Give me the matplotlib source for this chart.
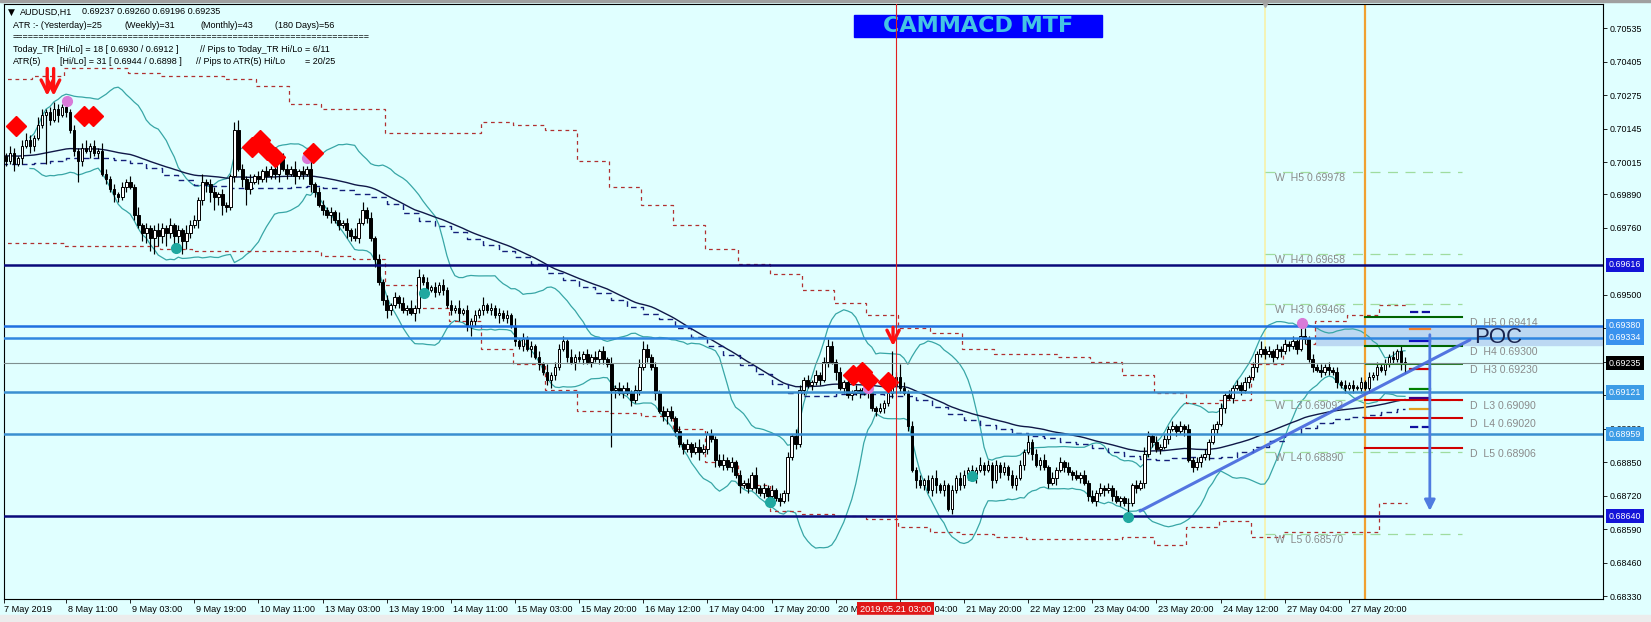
import matplotlib
matplotlib.use("Agg")
import matplotlib.pyplot as plt
import matplotlib.transforms as mtransforms
from matplotlib import font_manager
from matplotlib.patches import Rectangle
import numpy as np
import pandas as pd

W, H = 1651, 622

# AUDUSD H1 closes in pips (0.0001), bar 0 = 7 May 2019, last bar = 28 May 2019
close_pips = [
    7004, 7002, 7005, 7001, 7003, 7008, 7010, 7008, 7011, 7016,
    7020, 7021, 7018, 7022, 7020, 7023, 7021, 7014, 7006, 7002,
    7007, 7006, 7008, 7005, 7006, 6997, 6995, 6991, 6989, 6988,
    6992, 6994, 6992, 6981, 6977, 6974, 6976, 6972, 6975, 6973,
    6976, 6974, 6977, 6973, 6975, 6971, 6974, 6977, 6979, 6987,
    6994, 6993, 6990, 6988, 6989, 6985, 6984, 6996, 7014, 6999,
    6995, 6991, 6994, 6996, 6995, 6998, 6996, 6999, 6997, 7004,
    6999, 6997, 6999, 6996, 6998, 6997, 6999, 6993, 6990, 6985,
    6983, 6981, 6982, 6979, 6977, 6978, 6975, 6973, 6972, 6978,
    6983, 6980, 6972, 6964, 6955, 6948, 6944, 6946, 6949, 6947,
    6944, 6945, 6943, 6945, 6957, 6955, 6952, 6953, 6951, 6954,
    6952, 6946, 6944, 6945, 6943, 6944, 6938, 6940, 6942, 6944,
    6946, 6944, 6945, 6942, 6943, 6941, 6942, 6938, 6932, 6930,
    6933, 6929, 6930, 6926, 6923, 6920, 6917, 6919, 6922, 6929,
    6932, 6926, 6924, 6926, 6925, 6927, 6924, 6926, 6925, 6928,
    6925, 6923, 6913, 6914, 6912, 6914, 6912, 6909, 6913, 6922,
    6929, 6926, 6922, 6912, 6905, 6903, 6905, 6902, 6897, 6892,
    6890, 6892, 6889, 6891, 6889, 6890, 6896, 6894, 6886, 6884,
    6886, 6883, 6885, 6880, 6876, 6877, 6875, 6880, 6875, 6873,
    6875, 6872, 6874, 6871, 6870, 6873, 6887, 6895, 6892, 6913,
    6917, 6915, 6916, 6919, 6917, 6924, 6930, 6924, 6920, 6914,
    6916, 6911, 6912, 6913, 6912, 6914, 6912, 6906, 6905, 6906,
    6908, 6912, 6915, 6918, 6914, 6912, 6899, 6882, 6878, 6876,
    6878, 6874, 6879, 6876, 6874, 6876, 6867, 6874, 6879, 6876,
    6880, 6882, 6879, 6882, 6884, 6882, 6884, 6878, 6884, 6881,
    6883, 6880, 6876, 6879, 6884, 6889, 6893, 6888, 6884, 6886,
    6883, 6877, 6879, 6882, 6885, 6883, 6881, 6880, 6879, 6880,
    6877, 6872, 6870, 6873, 6875, 6874, 6875, 6872, 6870, 6871,
    6869, 6869, 6876, 6875, 6877, 6888, 6895, 6893, 6890, 6891,
    6894, 6898, 6899, 6897, 6899, 6898, 6886, 6883, 6885, 6887,
    6888, 6893, 6898, 6900, 6906, 6911, 6910, 6914, 6915, 6913,
    6916, 6918, 6922, 6927, 6929, 6927, 6928, 6926, 6929, 6928,
    6931, 6930, 6932, 6929, 6934, 6933, 6925, 6922, 6921, 6920,
    6922, 6921, 6920, 6916, 6915, 6914, 6915, 6914, 6914, 6916,
    6914, 6918, 6919, 6922, 6921, 6923, 6926, 6925, 6928, 6924,
    6923.5,
]
first_open = 7003

# wick lengths in pips per bar (base-36 digits, so j=19, m=22, d=13)
wick_up_txt = """
2132123213 2123212121 2312132121 2121312123 2131213221 3122121134 2131212132
1213121312 2121312132 3121212121 2131312121 2121312121 3121212131 2121213122
2131212121 2131212123 3212121212 1212321212 2121212131 2121212132 1212123212
1212121212 12d2521212 1213121212 2121312121 2121213121 2121212121 2121212121
1212132121 2121212121 2121212121 2121312121 2121331212 1212121212 1212121212 2
"""
wick_dn_txt = """
2213121321 1j21312128 2131212132 1212134564 3524353213 2345342121 3621212123
1213121321 2131213212 1213123212 1213212121 2121312421 2121312121 2131212321
1213121212 21m3121212 1213123121 2121312131 2121312121 2121213121 2121212131
2121212121 2121212131 2123121212 1212121312 1212121212 1213121212 1212121212
1412121212 1212131212 1212121212 1212121212 1212121212 1212121212 1212121213 4
"""

# MTF envelope (red dotted), one value per 8 bars, pips
env_upper = [7034, 7035, 7038, 7038, 7036, 7035, 7035, 7034, 7031, 7024,
             7022, 7022, 7013, 7013, 7013, 7017, 7016, 7014, 7002, 6992,
             6985, 6977, 6968, 6962, 6958, 6952, 6947, 6942, 6937, 6935,
             6929, 6927, 6927, 6926, 6924, 6919, 6912, 6908, 6909, 6923,
             6931, 6940, 6942, 6946]
env_lower = [6970, 6970, 6969, 6969, 6969, 6968, 6967, 6967, 6967, 6967,
             6965, 6964, 6954, 6945, 6940, 6929, 6923, 6913, 6905, 6904,
             6903, 6898, 6885, 6876, 6866, 6865, 6864, 6863, 6860, 6858,
             6857, 6856, 6855, 6855, 6855, 6856, 6853, 6860, 6862, 6856,
             6858, 6858, 6858, 6869]

# x-axis labels (bar index, text)
date_ticks = [16, 32, 48, 64, 80, 96, 112, 128, 144, 160, 176, 192, 208,
              224, 240, 256, 272, 288, 304, 320, 336]
date_labels = ["8 May 11:00", "9 May 03:00", "9 May 19:00", "10 May 11:00",
               "13 May 03:00", "13 May 19:00", "14 May 11:00", "15 May 03:00",
               "15 May 20:00", "16 May 12:00", "17 May 04:00", "17 May 20:00",
               "20 May 12:00", "21 May 04:00", "21 May 20:00", "22 May 12:00",
               "23 May 04:00", "23 May 20:00", "24 May 12:00", "27 May 04:00",
               "27 May 20:00"]
price_ticks = [0.70535, 0.70405, 0.70275, 0.70145, 0.70015, 0.69890, 0.69760,
               0.69500, 0.69370, 0.69240, 0.69110, 0.68980, 0.68850, 0.68720,
               0.68590, 0.68460, 0.68330]

# horizontal levels drawn on the chart
sr_levels = [0.69616, 0.69380, 0.69334, 0.69121, 0.68959, 0.68640]
sr_colors = ["#0a0a7a", "#1f6fe0", "#2f86e0", "#3a8fd0", "#3a8fd0", "#0a0a7a"]
sr_tagcol = ["#1414d8", "#3a92ee", "#3a92ee", "#3d9ce6", "#3d9ce6", "#1414d8"]
last_price = 0.69235

# daily pivots
d_names = ["H5", "H4", "H3", "L3", "L4", "L5"]
d_values = [0.69414, 0.69300, 0.69230, 0.69090, 0.69020, 0.68906]
d_colors = ["#006400", "#006400", "#2f7a2f", "#d00000", "#d00000", "#d00000"]
d_widths = [2.0, 2.0, 1.0, 2.0, 2.0, 2.0]
# weekly pivots
w_names = ["H5", "H4", "H3", "L3", "L4", "L5"]
w_values = [0.69978, 0.69658, 0.69466, 0.69092, 0.68890, 0.68570]
# short day-open style marks right of the last bar
mark_prices = [0.69434, 0.69367, 0.69321, 0.69212, 0.69135, 0.69100, 0.69057, 0.68987]
mark_colors = ["#1010a0", "#f08030", "#1010c0", "#d00000", "#008000", "#400080", "#e0a020", "#1010a0"]
mark_styles = ["--", "-", "-", "-", "-", "-", "-", "--"]

# signal markers (bar, price)
diamond_x = [3.5, 20.5, 22.7, 62.4, 64.4, 66.1, 68.1, 77.6, 212.3, 214.5, 216.1, 221.0]
diamond_y = [0.70156, 0.70195, 0.70195, 0.70075, 0.70102, 0.70063, 0.70036, 0.70051,
             0.69189, 0.69200, 0.69170, 0.69162]
pink_x = [16.2, 76.1, 216.1, 324.3]
pink_y = [0.70253, 0.70032, 0.69138, 0.69391]
teal_x = [43.4, 105.3, 191.6, 242.0, 280.9]
teal_y = [0.69682, 0.69507, 0.68695, 0.68796, 0.68637]
arrow_x = [11.3, 12.9, 222.3]
arrow_top = [0.70390, 0.70390, 0.69385]
arrow_tip = [0.70262, 0.70262, 0.69290]

# trend line and projection arrow
trend_x = [283.9, 366.2]
trend_y = [0.68660, 0.69325]
proj_x = 356.2
proj_from, proj_to = 0.69356, 0.68650

# ---------------------------------------------------------------
installed = {f.name for f in font_manager.fontManager.ttflist}
if "Liberation Sans Narrow" in installed:
    info_font, info_size = "Liberation Sans Narrow", 7.5
else:
    info_font, info_size = "Liberation Sans", 6.5

wick_up = [int(c, 36) for c in "".join(wick_up_txt.split())]
wick_dn = [int(c, 36) for c in "".join(wick_dn_txt.split())]

close = np.array(close_pips) / 1e4
n = len(close)
open_ = np.r_[first_open / 1e4, close[:-1]]
high = np.maximum(open_, close) + np.array(wick_up) / 1e4
low = np.minimum(open_, close) - np.array(wick_dn) / 1e4
x = np.arange(n)

bg = "#e0ffff"
fig = plt.figure(figsize=(W / 100, H / 100), dpi=100, facecolor=bg)
ax = fig.add_axes([4 / W, (H - 599) / H, (1603 - 4) / W, (599 - 4) / H])
ax.set_facecolor(bg)
x_left, x_right = 0.52, 399.4
y_bot, y_top = 0.683185, 0.706298
ax.set_xlim(x_left, x_right)
ax.set_ylim(y_bot, y_top)

fig.patches.append(Rectangle((0, 1 - 2 / H), 1, 2 / H, transform=fig.transFigure, color="#a0a0a0"))
fig.patches.append(Rectangle((0, 0), 1, 7 / H, transform=fig.transFigure, color="#ececec"))

# indicators
s = pd.Series(close)
mid = s.rolling(20, min_periods=8).mean()
sd = s.rolling(20, min_periods=8).std(ddof=0)
ax.plot(x, mid + 2 * sd, color="#38a6a6", lw=0.9, zorder=2)
ax.plot(x, mid - 2 * sd, color="#38a6a6", lw=0.9, zorder=2)
ema = s.ewm(span=100, adjust=False).mean()
ax.plot(x, ema, color="#101848", lw=1.0, zorder=2)
ema_low = pd.Series(low).ewm(span=100, adjust=False).mean().values
ax.plot(x, ema_low[(x // 4) * 4], color="#14207a", lw=1.0, ls=(0, (4, 3)),
        drawstyle="steps-post", zorder=2)
edges = np.arange(len(env_upper) + 1) * 8 - 0.5
edges[-1] = n - 0.5
ax.stairs(np.array(env_upper) / 1e4, edges, baseline=None, color="#b03030", lw=0.9, ls=(0, (3, 3)), zorder=2)
ax.stairs(np.array(env_lower) / 1e4, edges, baseline=None, color="#b03030", lw=0.9, ls=(0, (3, 3)), zorder=2)

# POC zone
ax.add_patch(Rectangle((327.8, 0.69305), x_right - 327.8, 0.0007, color="#bcd8f2", zorder=1))

# candles
bull = close >= open_
body_lo = np.minimum(open_, close)
body_h = np.maximum(np.abs(close - open_), 0.000004)
ax.vlines(x, low, high, color="black", lw=0.85, zorder=3)
ax.bar(x[bull], body_h[bull], bottom=body_lo[bull], width=0.66, color="white",
       edgecolor="black", lw=0.7, zorder=3.5)
ax.bar(x[~bull], body_h[~bull], bottom=body_lo[~bull], width=0.66, color="black",
       edgecolor="black", lw=0.7, zorder=3.5)

# vertical lines
ax.axvline(223, color="#e02020", lw=0.8, zorder=7)
ax.axvline(315, color="#f6f2b0", lw=1.3, zorder=1.2)
ax.axvline(340, color="#f0a030", lw=1.6, zorder=2.5)
ax.plot([315], [y_top], marker="v", ms=5, color="#a8a8a8", clip_on=False, zorder=8)

# horizontal levels
for p, c in zip(sr_levels, sr_colors):
    ax.axhline(p, color=c, lw=1.8, zorder=4)
ax.axhline(last_price, color="#7f8f8f", lw=0.8, zorder=4)

pp = 1 / 25743  # price per pixel
for name, v in zip(w_names, w_values):
    ax.plot([315, 364.2], [v, v], color="#9fdc9f", lw=0.9, ls=(0, (8, 6)), zorder=2.2)
    ax.text(317.6, v - 6 * pp, f"W  {name} {v:.5f}", fontsize=7.6, color="#8a8a8a",
            va="center", ha="left", family="Liberation Sans", zorder=2.3)
for name, v, c, w in zip(d_names, d_values, d_colors, d_widths):
    ax.plot([340, 364.2], [v, v], color=c, lw=w * 0.75, zorder=4.5)
    ax.text(366.2, v - 6 * pp, f"D  {name} {v:.5f}", fontsize=7.6, color="#8a8a8a",
            va="center", ha="left", family="Liberation Sans", zorder=4.5)
for v, c, ls in zip(mark_prices, mark_colors, mark_styles):
    ax.plot([351.2, 356.2], [v, v], color=c, lw=1.6, ls=ls, zorder=4.6)

ax.text(367.2, 0.69333, "POC", fontsize=16, color="#1a2550", va="center", ha="left",
        family="Liberation Sans", zorder=5)

# trend line and projection
ax.plot(trend_x, trend_y, color="#4466dd", lw=2.2, alpha=0.9, zorder=5, solid_capstyle="round")
ax.annotate("", xy=(proj_x, proj_to), xytext=(proj_x, proj_from),
            arrowprops=dict(arrowstyle="-|>", color="#4f7be0", lw=2.0, mutation_scale=16), zorder=5)

# signals
ax.plot(diamond_x, diamond_y, ls="none", marker="D", ms=10, color="#ff0000", zorder=6)
ax.plot(pink_x, pink_y, ls="none", marker="o", ms=7, color="#d87ad8", zorder=5.5)
ax.plot(teal_x, teal_y, ls="none", marker="o", ms=7, color="#20a8a0", zorder=5.5)
for xa, yt, yp in zip(arrow_x, arrow_top, arrow_tip):
    ax.annotate("", xy=(xa, yp), xytext=(xa, yt),
                arrowprops=dict(arrowstyle="->", color="#ff1010", lw=2.4, mutation_scale=22), zorder=6)

# axes styling
for sp in ax.spines.values():
    sp.set_color("black")
    sp.set_linewidth(0.8)
ax.yaxis.tick_right()
ax.set_yticks(price_ticks)
ax.set_yticklabels([f"{p:.5f}" for p in price_ticks], fontsize=6.4, family="Liberation Sans")
ax.tick_params(axis="y", length=3, width=0.6, pad=2)
ax.set_xticks([0.6] + date_ticks)
ax.set_xticklabels([])
ax.tick_params(axis="x", length=3, width=0.6)

lbl_tf = mtransforms.blended_transform_factory(ax.transData, fig.transFigure)
ax.text(0.6, 1 - 609 / H, "7 May 2019", transform=lbl_tf, fontsize=6.6, ha="left", va="center",
        family="Liberation Sans", clip_on=False)
for b, t in zip(date_ticks, date_labels):
    ax.text(b + 0.5, 1 - 609 / H, t, transform=lbl_tf, fontsize=6.6, ha="left", va="center",
            family="Liberation Sans", clip_on=False)
ax.text(223, 1 - 609 / H, "2019.05.21 03:00", transform=lbl_tf, fontsize=6.6, ha="center",
        va="center", color="white", family="Liberation Sans", clip_on=False, zorder=20,
        bbox=dict(boxstyle="square,pad=0.3", fc="#e01818", ec="none"))

tag_tf = mtransforms.blended_transform_factory(ax.transAxes, ax.transData)
for p, fc in zip(sr_levels, sr_tagcol):
    ax.text(1.0035, p, f"{p:.5f}", transform=tag_tf, fontsize=6.4, color="white", va="center",
            ha="left", family="Liberation Sans", clip_on=False, zorder=20,
            bbox=dict(boxstyle="square,pad=0.3", fc=fc, ec="none"))
ax.text(1.0035, last_price, f"{last_price:.5f}", transform=tag_tf, fontsize=6.4, color="white",
        va="center", ha="left", family="Liberation Sans", clip_on=False, zorder=20,
        bbox=dict(boxstyle="square,pad=0.3", fc="black", ec="none"))

# title box
ax.add_patch(Rectangle((854 / W, 1 - 37 / H), 248 / W, 22 / H, transform=fig.transFigure,
                       color="#0000ff", zorder=6.5))
ax.text(978 / W, 1 - 26.5 / H, "CAMMACD MTF", transform=fig.transFigure, fontsize=16,
        fontweight="bold", color="#44c4e4", ha="center", va="center", zorder=6.6)

# info text top-left
info = [
    (8, 12, "\u25bc"), (20, 12, "AUDUSD,H1"), (82, 12, "0.69237 0.69260 0.69196 0.69235"),
    (13, 26, "ATR :- (Yesterday)=25"), (124, 26, "(Weekly)=31"), (200, 26, "(Monthly)=43"),
    (275, 26, "(180 Days)=56"),
    (13, 50, "Today_TR [Hi/Lo] = 18 [ 0.6930 / 0.6912 ]"),
    (200, 50, "// Pips to Today_TR Hi/Lo"), (305, 50, "= 6/11"),
    (13, 62, "ATR(5)"), (60, 62, "[Hi/Lo] = 31 [ 0.6944 / 0.6898 ]"),
    (196, 62, "// Pips to ATR(5) Hi/Lo"), (305, 62, "= 20/25"),
]
for px_, py_, t in info:
    fam = ["DejaVu Sans"] if t == "\u25bc" else [info_font]
    ax.text(px_ / W, 1 - py_ / H, t, transform=fig.transFigure, fontsize=info_size, color="black",
            ha="left", va="center", family=fam, zorder=10)
ax.text(13 / W, 1 - 37 / H, "=" * 68, transform=fig.transFigure, fontsize=info_size,
        color="black", ha="left", va="center", family=[info_font], zorder=10)

fig.savefig("out.png", dpi=100, facecolor=bg)
